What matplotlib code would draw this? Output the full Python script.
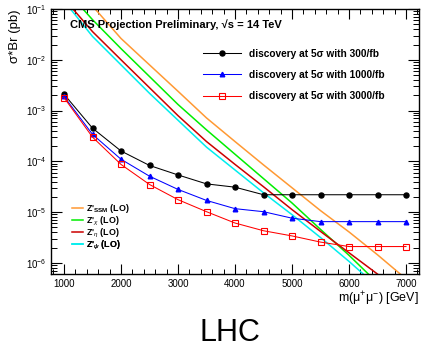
"""CMS Z' -> mu mu 14 TeV 发现潜力投影图（复刻）。"""

import numpy as np
import matplotlib
matplotlib.use("Agg")
import matplotlib.pyplot as plt
from matplotlib.ticker import MultipleLocator, LogLocator, NullFormatter

plt.rcParams["font.family"] = ["Liberation Sans", "DejaVu Sans"]
plt.rcParams["mathtext.fontset"] = "custom"
plt.rcParams["mathtext.rm"] = "Liberation Sans"
plt.rcParams["mathtext.it"] = "Liberation Sans:italic"
plt.rcParams["mathtext.bf"] = "Liberation Sans:bold"

# 发现曲线（5 sigma）质量点
mass = [1000, 1500, 2000, 2500, 3000, 3500, 4000, 4500, 5000, 5500, 6000, 6500, 7000]
disc_300 = [2.1e-3, 4.5e-4, 1.6e-4, 8.3e-5, 5.4e-5, 3.6e-5, 3.1e-5, 2.2e-5, 2.2e-5, 2.2e-5, 2.2e-5, 2.2e-5, 2.2e-5]
disc_1000 = [1.9e-3, 3.4e-4, 1.1e-4, 5.1e-5, 2.8e-5, 1.7e-5, 1.17e-5, 1.02e-5, 7.6e-6, 6.5e-6, 6.5e-6, 6.5e-6, 6.5e-6]
disc_3000 = [1.8e-3, 3.0e-4, 8.7e-5, 3.5e-5, 1.76e-5, 1.02e-5, 6.1e-6, 4.3e-6, 3.4e-6, 2.57e-6, 2.1e-6, 2.1e-6, 2.1e-6]

# 理论截面 x 分支比（log10）
m_ssm = [1500, 2000, 2500, 3000, 3500, 4000, 4500, 5000, 5500, 6000, 6500, 6900]
log_ssm = [-0.94, -1.58, -2.10, -2.62, -3.145, -3.61, -4.07, -4.52, -4.97, -5.39, -5.84, -6.22]
m_chi = [1300, 1500, 2000, 2500, 3000, 3500, 4000, 4500, 5000, 5500, 6000, 6340]
log_chi = [-0.96, -1.21, -1.78, -2.33, -2.88, -3.38, -3.86, -4.34, -4.82, -5.34, -5.85, -6.22]
m_eta = [1150, 1500, 2000, 2500, 3000, 3500, 4000, 4500, 5000, 5500, 6000, 6500]
log_eta = [-0.99, -1.445, -2.0, -2.55, -3.10, -3.61, -4.06, -4.50, -4.95, -5.38, -5.80, -6.22]
m_psi = [1100, 1500, 2000, 2500, 3000, 3500, 4000, 4500, 5000, 5500, 6000, 6250]
log_psi = [-0.98, -1.54, -2.10, -2.66, -3.19, -3.72, -4.17, -4.62, -5.05, -5.50, -5.97, -6.22]

theory_labels = ["Z'$_{\\mathbf{SSM}}$ (LO)", "Z'$_{\\chi}$ (LO)",
                 "Z'$_{\\eta}$ (LO)", "Z'$_{\\psi}$ (LO)"]

fig = plt.figure(figsize=(4.22, 3.47), dpi=100)
ax = fig.add_axes([0.1209, 0.2104, 0.8720, 0.7636])

# 理论曲线
th_ssm, = ax.plot(m_ssm, 10 ** np.array(log_ssm), color="#ff9933", lw=1.1)
th_chi, = ax.plot(m_chi, 10 ** np.array(log_chi), color="#00ee00", lw=1.1)
th_eta, = ax.plot(m_eta, 10 ** np.array(log_eta), color="#cc0000", lw=1.1)
th_psi, = ax.plot(m_psi, 10 ** np.array(log_psi), color="#00eeee", lw=1.1)

# 发现曲线
h300, = ax.plot(mass, disc_300, color="black", lw=0.75, marker="o", ms=3.6)
h1000, = ax.plot(mass, disc_1000, color="blue", lw=0.75, marker="^", ms=3.3)
h3000, = ax.plot(mass, disc_3000, color="red", lw=0.75, marker="s", ms=4.3,
                 mfc="none", mew=0.8)

ax.set_yscale("log")
ax.set_xlim(772, 7228)
ax.set_ylim(6.05e-7, 1e-1)

ax.xaxis.set_major_locator(MultipleLocator(1000))
ax.xaxis.set_minor_locator(MultipleLocator(200))
ax.yaxis.set_major_locator(LogLocator(base=10, numticks=20))
ax.yaxis.set_minor_locator(LogLocator(base=10, subs=np.arange(2, 10), numticks=20))
ax.yaxis.set_minor_formatter(NullFormatter())

ax.tick_params(which="both", direction="in", top=True, right=True, labelsize=7)
ax.tick_params(which="major", axis="x", length=7, width=0.8)
ax.tick_params(which="minor", axis="x", length=3.5, width=0.7)
ax.tick_params(which="major", axis="y", length=8, width=0.8)
ax.tick_params(which="minor", axis="y", length=4, width=0.7)
for sp in ax.spines.values():
    sp.set_linewidth(1.0)

ax.set_ylabel("σ*Br (pb)", fontsize=9.5, loc="top", labelpad=3)
ax.set_xlabel("m(μ$^{+}$μ$^{-}$) [GeV]", fontsize=9, loc="right", labelpad=1)

ax.text(0.052, 0.943, "CMS Projection Preliminary, √s = 14 TeV",
        transform=ax.transAxes, fontsize=8, fontweight="bold", va="center")

leg1 = ax.legend([h300, h1000, h3000],
                 ["discovery at 5σ with 300/fb",
                  "discovery at 5σ with 1000/fb",
                  "discovery at 5σ with 3000/fb"],
                 loc="upper left", bbox_to_anchor=(0.413, 0.85), frameon=False,
                 prop={"size": 7.3, "weight": "bold"}, handlelength=3.7,
                 handletextpad=0.8, labelspacing=1.1, borderpad=0, borderaxespad=0)
ax.add_artist(leg1)

# 理论曲线图例：每行单独放置，行距固定
row_y = [0.247, 0.200, 0.154, 0.108]
for h, lab, yy in zip([th_ssm, th_chi, th_eta, th_psi], theory_labels, row_y):
    lg = ax.legend([h], [lab], loc="center left",
                   bbox_to_anchor=(0.057, yy), frameon=False,
                   prop={"size": 6.4, "weight": "bold"}, handlelength=1.25,
                   handletextpad=0.35, borderpad=0, borderaxespad=0)
    ax.add_artist(lg)

fig.text(0.545, 0.04, "LHC", fontsize=22, ha="center", va="center")

fig.savefig("out.png", dpi=100)
